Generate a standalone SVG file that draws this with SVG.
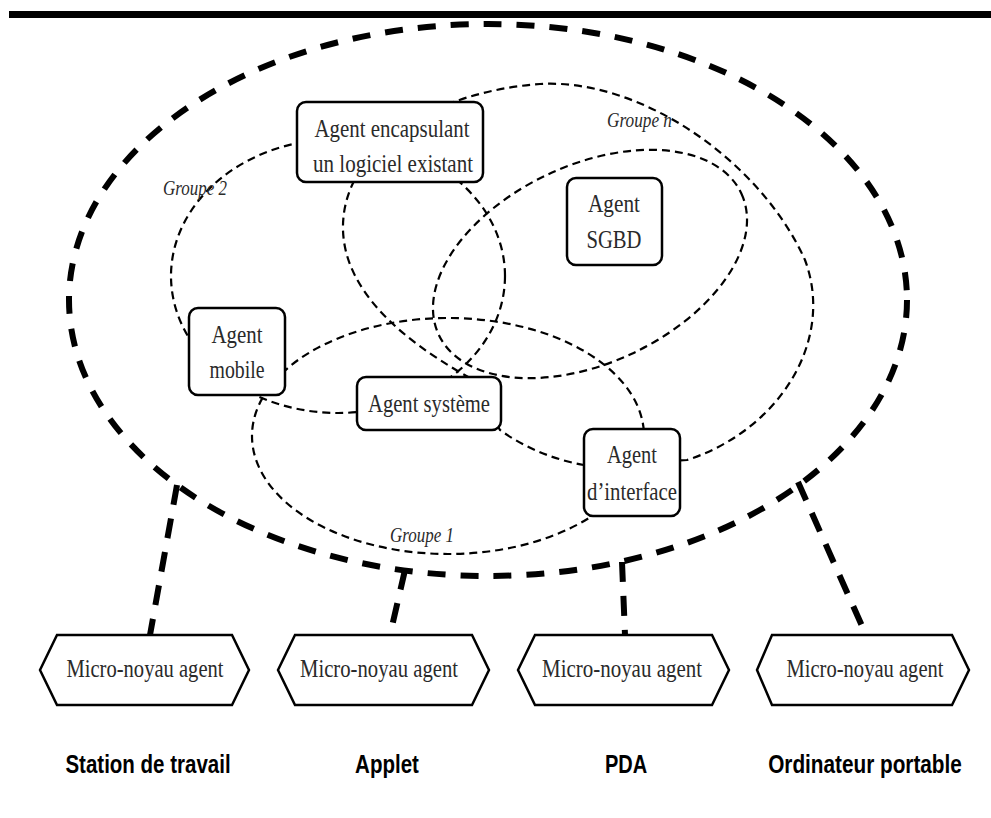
<svg xmlns="http://www.w3.org/2000/svg" width="991" height="818" viewBox="0 0 991 818">
<style>
.big{fill:none;stroke:#000;stroke-width:6;stroke-dasharray:18 15}
.grp{fill:none;stroke:#000;stroke-width:2.2;stroke-dasharray:8 5}
.con{fill:none;stroke:#000;stroke-width:6;stroke-dasharray:20 14}
.box{fill:#fff;stroke:#000;stroke-width:2.5}
.t{font-family:"Liberation Serif","Times New Roman",serif;font-size:25px;fill:#2a2a2a;text-anchor:middle}
.gl{font-family:"Liberation Serif","Times New Roman",serif;font-size:21px;font-style:italic;fill:#2a2a2a}
.lbl{font-family:"Liberation Sans",Arial,sans-serif;font-size:25px;font-weight:bold;fill:#000;text-anchor:middle}
</style>
<rect x="9" y="11" width="982" height="7" fill="#000"/>
<g id="groups">
<ellipse id="platform" class="big" cx="488" cy="300" rx="419" ry="276"/>
<ellipse id="groupe2" class="grp" cx="338" cy="276" rx="167" ry="137"/>
<ellipse id="groupe1" class="grp" cx="448" cy="436" rx="196" ry="118"/>
<ellipse id="groupeSGBD" class="grp" cx="590" cy="264" rx="167" ry="99" transform="rotate(-25 590 264)"/>
<path id="groupen" class="grp" d="M470,378 C420,350 345,300 343,230 C341,150 430,92 540,84 C640,78 760,160 805,260 C835,340 780,430 687,460 L584,465 C555,460 525,448 500,430 Z"/>
<text class="gl" x="163" y="195" textLength="64" lengthAdjust="spacingAndGlyphs">Groupe 2</text>
<text class="gl" x="607" y="127" textLength="65" lengthAdjust="spacingAndGlyphs">Groupe n</text>
<text class="gl" x="390" y="542" textLength="64" lengthAdjust="spacingAndGlyphs">Groupe 1</text>
</g>
<g id="connectors">
<line class="con" x1="177" y1="485" x2="150" y2="635"/>
<line class="con" x1="405" y1="570" x2="390" y2="635"/>
<line class="con" x1="622" y1="562" x2="625" y2="635"/>
<line class="con" x1="798" y1="482" x2="866" y2="635"/>
</g>
<g id="agent-encapsulant">
<rect class="box" x="297" y="102" width="186" height="80" rx="9"/>
<text class="t" x="392" y="137" textLength="155" lengthAdjust="spacingAndGlyphs">Agent encapsulant</text>
<text class="t" x="393" y="172" textLength="160" lengthAdjust="spacingAndGlyphs">un logiciel existant</text>
</g>
<g id="agent-sgbd">
<rect class="box" x="567" y="178" width="95" height="87" rx="9"/>
<text class="t" x="614" y="212" textLength="52" lengthAdjust="spacingAndGlyphs">Agent</text>
<text class="t" x="614" y="248" textLength="55" lengthAdjust="spacingAndGlyphs">SGBD</text>
</g>
<g id="agent-mobile">
<rect class="box" x="189" y="308" width="96" height="87" rx="9"/>
<text class="t" x="237" y="343" textLength="51" lengthAdjust="spacingAndGlyphs">Agent</text>
<text class="t" x="237" y="378" textLength="55" lengthAdjust="spacingAndGlyphs">mobile</text>
</g>
<g id="agent-systeme">
<rect class="box" x="357" y="377" width="144" height="53" rx="9"/>
<text class="t" x="429" y="412" textLength="122" lengthAdjust="spacingAndGlyphs">Agent système</text>
</g>
<g id="agent-interface">
<rect class="box" x="584" y="429" width="96" height="87" rx="9"/>
<text class="t" x="632" y="463" textLength="50" lengthAdjust="spacingAndGlyphs">Agent</text>
<text class="t" x="632" y="500" textLength="90" lengthAdjust="spacingAndGlyphs">d’interface</text>
</g>
<g id="kernel-station">
<path class="box" d="M40,670 L57,635 L232,635 L249,670 L232,705 L57,705 Z"/>
<text class="t" x="145" y="677" textLength="157" lengthAdjust="spacingAndGlyphs">Micro-noyau agent</text>
<text class="lbl" transform="translate(148 773) scale(0.82 1)">Station de travail</text>
</g>
<g id="kernel-applet">
<path class="box" d="M278,670 L295,635 L472,635 L489,670 L472,705 L295,705 Z"/>
<text class="t" x="379" y="677" textLength="158" lengthAdjust="spacingAndGlyphs">Micro-noyau agent</text>
<text class="lbl" transform="translate(387 773) scale(0.82 1)">Applet</text>
</g>
<g id="kernel-pda">
<path class="box" d="M518,670 L535,635 L712,635 L729,670 L712,705 L535,705 Z"/>
<text class="t" x="622" y="677" textLength="160" lengthAdjust="spacingAndGlyphs">Micro-noyau agent</text>
<text class="lbl" transform="translate(626 773) scale(0.8 1)">PDA</text>
</g>
<g id="kernel-portable">
<path class="box" d="M757,670 L772,635 L952,635 L969,670 L952,705 L772,705 Z"/>
<text class="t" x="865" y="677" textLength="157" lengthAdjust="spacingAndGlyphs">Micro-noyau agent</text>
<text class="lbl" transform="translate(865 773) scale(0.83 1)">Ordinateur portable</text>
</g>
</svg>
